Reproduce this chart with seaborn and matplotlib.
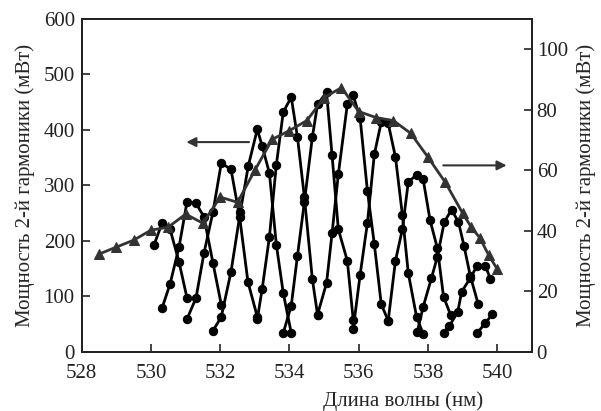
import matplotlib
matplotlib.use('agg')
import matplotlib.pyplot as plt
import seaborn as sns

sns.set_style('ticks')
plt.rcParams['font.family'] = ['Liberation Serif', 'DejaVu Serif']

# separate tuning scans, left axis (mW)
wl_1 = [530.09, 530.32, 530.55, 530.81, 531.04]
p_1 = [193, 232, 221, 162, 97]
wl_2 = [530.32, 530.55, 530.81, 531.04, 531.30, 531.53, 531.79, 532.03]
p_2 = [79, 122, 189, 270, 268, 243, 160, 85]
wl_3 = [531.04, 531.30, 531.53, 531.79, 532.03, 532.31, 532.56, 532.80, 533.07]
p_3 = [59, 97, 178, 252, 340, 329, 243, 126, 63]
wl_4 = [531.79, 532.03, 532.31, 532.58, 532.81, 533.07, 533.21, 533.42, 533.62, 533.82, 534.05]
p_4 = [38, 63, 144, 252, 335, 401, 371, 322, 193, 106, 34]
wl_5 = [533.07, 533.21, 533.42, 533.62, 533.82, 534.05, 534.23, 534.43, 534.66, 534.81]
p_5 = [59, 113, 207, 337, 432, 459, 387, 279, 131, 67]
wl_6 = [533.82, 534.05, 534.23, 534.43, 534.66, 534.81, 535.07, 535.23, 535.41, 535.67, 535.84]
p_6 = [34, 83, 173, 270, 387, 446, 468, 354, 221, 164, 58]
wl_7 = [534.81, 535.07, 535.23, 535.41, 535.67, 535.84, 536.04, 536.25, 536.45, 536.65, 536.85]
p_7 = [67, 124, 214, 320, 446, 462, 421, 290, 194, 86, 56]
wl_8 = [535.84, 536.04, 536.25, 536.45, 536.65, 536.85, 537.06, 537.26, 537.43, 537.67, 537.86]
p_8 = [41, 139, 232, 356, 414, 412, 351, 247, 142, 63, 32]
wl_9 = [536.85, 537.06, 537.26, 537.43, 537.67, 537.86, 538.06, 538.27, 538.45, 538.65]
p_9 = [56, 164, 221, 306, 319, 311, 237, 187, 99, 67]
wl_10 = [537.69, 537.86, 538.10, 538.27, 538.47, 538.68, 538.88, 539.04, 539.22, 539.45]
p_10 = [36, 81, 133, 171, 234, 256, 234, 191, 137, 86]
wl_11 = [538.45, 538.62, 538.86, 538.97, 539.22, 539.42, 539.66, 539.80]
p_11 = [34, 47, 72, 108, 133, 155, 155, 131]
wl_12 = [539.42, 539.66, 539.86]
p_12 = [34, 52, 68]

# envelope, right axis (mW)
env_wl = [528.5, 529.0, 529.5, 530.0, 530.5, 531.0, 531.5, 532.0, 532.5, 533.0,
          533.5, 534.0, 534.5, 535.0, 535.5, 536.0, 536.5, 537.0, 537.5, 538.0,
          538.5, 539.0, 539.25, 539.5, 539.75, 540.0]
env_p = [32.3, 34.6, 36.9, 40.2, 41.2, 45.5, 42.5, 51.1, 49.4, 60.0,
         70.2, 73.1, 76.4, 84.0, 87.3, 79.4, 77.4, 76.4, 72.2, 64.3,
         56.0, 45.8, 41.2, 37.6, 32.0, 27.3]

scans = [(wl_1, p_1), (wl_2, p_2), (wl_3, p_3), (wl_4, p_4), (wl_5, p_5),
         (wl_6, p_6), (wl_7, p_7), (wl_8, p_8), (wl_9, p_9), (wl_10, p_10),
         (wl_11, p_11), (wl_12, p_12)]

fig = plt.figure(figsize=(6.01, 4.11), dpi=100)
ax = fig.add_axes([0.136, 0.144, 0.749, 0.810])
ax2 = ax.twinx()

for wl, p in scans:
    sns.lineplot(x=wl, y=p, ax=ax, color='k', lw=2, marker='o',
                 markersize=6, markeredgecolor='k', estimator=None)

sns.lineplot(x=env_wl, y=env_p, ax=ax2, color='#333333', lw=2, marker='^',
             markersize=7.5, markeredgecolor='#333333', estimator=None)

# arrows telling which axis each curve belongs to
ax.annotate('', xy=(530.94, 378), xytext=(532.91, 378),
            arrowprops=dict(arrowstyle='-|>', color='#333333', lw=1.5, mutation_scale=14))
ax.annotate('', xy=(540.35, 336), xytext=(538.36, 336),
            arrowprops=dict(arrowstyle='-|>', color='#333333', lw=1.5, mutation_scale=14))

ax.set_xlim(528, 541)
ax.set_ylim(0, 600)
ax.set_xticks(range(528, 541, 2))
ax.set_yticks(range(0, 601, 100))
ax2.set_ylim(0, 110)
ax2.set_yticks(range(0, 101, 20))

for a in (ax, ax2):
    a.tick_params(direction='in', length=6, width=1.2, labelsize=15, colors='#222222')
    for s in a.spines.values():
        s.set_linewidth(1.4)
        s.set_color('#222222')
ax.tick_params(axis='x', pad=9)
ax.tick_params(axis='y', pad=5)

ax.set_xlabel('Длина волны (нм)', fontsize=15)
ax.xaxis.set_label_coords(0.714, -0.12)
ax.set_ylabel('Мощность 2-й гармоники (мВт)', fontsize=15, labelpad=6)
ax2.set_ylabel('Мощность 2-й гармоники (мВт)', fontsize=15, labelpad=6)

fig.savefig('out.png', dpi=100)
